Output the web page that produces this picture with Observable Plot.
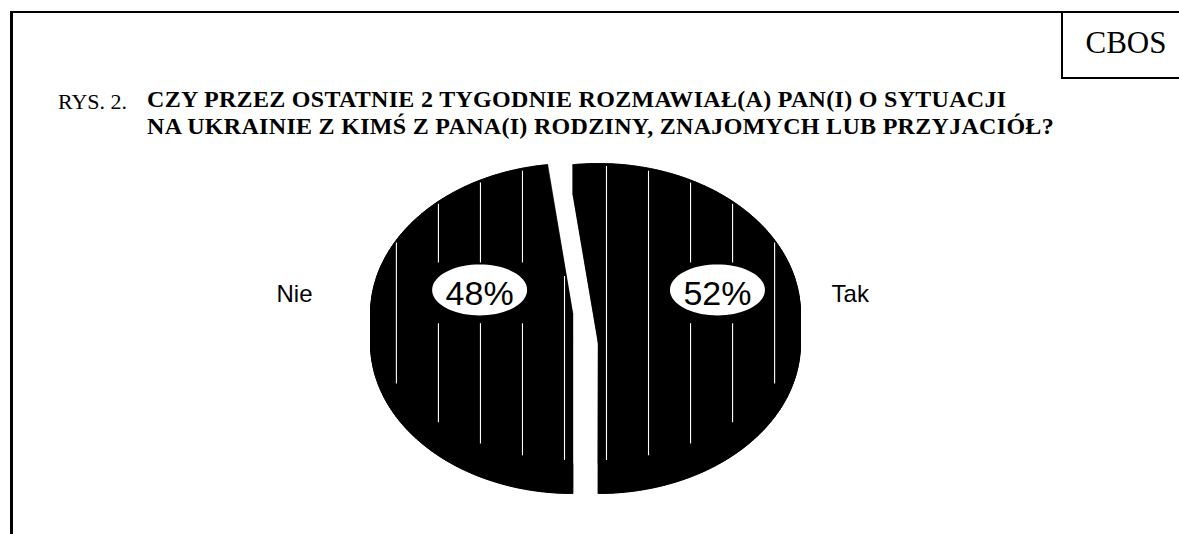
<!DOCTYPE html>
<html>
<head>
<meta charset="utf-8">
<script src="https://cdn.jsdelivr.net/npm/d3@7"></script>
<script src="https://cdn.jsdelivr.net/npm/@observablehq/plot@0.6"></script>
<style>
  html, body { margin: 0; padding: 0; background: #fff; }
  #wrap { position: relative; width: 1179px; height: 534px; overflow: hidden; background: #fff; }
  .ln { position: absolute; background: #000; }
  #cbos { position: absolute; left: 1063px; top: 23px; width: 116px; text-align: center;
          font-family: "Liberation Serif", "Times New Roman", serif; font-size: 31px; line-height: 40px; padding-left: 10px; box-sizing: border-box; }
  .t { position: absolute; font-family: "Liberation Serif", "Times New Roman", serif;
       white-space: nowrap; color: #000; }
  #rys { left: 58px; top: 88px; font-size: 22px; line-height: 27px; }
  #title { left: 147px; top: 86px; font-weight: bold; font-size: 24px; line-height: 27px; letter-spacing: 0.3px; }
  #chart { position: absolute; left: 0; top: 150px; }
</style>
</head>
<body>
<div id="wrap">
  <div class="ln" style="left:10px;top:11px;width:1169px;height:2px"></div>
  <div class="ln" style="left:10px;top:11px;width:2.5px;height:523px"></div>
  <div class="ln" style="left:1061px;top:11px;width:2px;height:68px"></div>
  <div class="ln" style="left:1061px;top:77px;width:118px;height:2px"></div>
  <div id="cbos">CBOS</div>
  <div class="t" id="rys">RYS. 2.</div>
  <div class="t" id="title"></div>
  <div id="chart"></div>
</div>
<script>
// ---- data ----
const titleLines = [
  "CZY PRZEZ OSTATNIE 2 TYGODNIE ROZMAWIAŁ(A) PAN(I) O SYTUACJI",
  "NA UKRAINIE Z KIMŚ Z PANA(I) RODZINY, ZNAJOMYCH LUB PRZYJACIÓŁ?"
];
const categories = ["Tak", "Nie"];
const values = [52, 48];
const percentLabels = ["52%", "48%"];

// ---- title ----
document.getElementById("title").innerHTML = titleLines.join("<br>");

// ---- geometry (in ellipse-radius units) ----
const explode = 0.064;
const depth = 0.2;
const total = d3.sum(values);
const a0 = Math.PI - 2 * Math.PI * values[0] / total; // first slice ends at the front
let acc = a0;
const slices = categories.map((c, i) => {
  const s = acc, e = acc + 2 * Math.PI * values[i] / total;
  acc = e;
  const mid = (s + e) / 2;
  return {c, i, s, e, mid, ox: explode * Math.sin(mid), oy: 0};
});

const polys = [];
let pid = 0;
function addPoly(pts) {
  const id = pid++;
  pts.forEach(p => polys.push({id, x: p[0], y: p[1]}));
}
slices.forEach(sl => {
  const n = Math.ceil((sl.e - sl.s) / (Math.PI / 180));
  const ring = [[sl.ox, sl.oy]];
  for (let k = 0; k <= n; k++) {
    const a = sl.s + (sl.e - sl.s) * k / n;
    ring.push([sl.ox + Math.sin(a), sl.oy + Math.cos(a)]);
  }
  addPoly(ring);
  addPoly(ring.map(p => [p[0], p[1] - depth]));
  for (let k = 0; k < ring.length; k++) {
    const p = ring[k], q = ring[(k + 1) % ring.length];
    addPoly([p, q, [q[0], q[1] - depth], [p[0], p[1] - depth]]);
  }
});

// label positions
const labelPos = {Tak: {x: 0.653, y: 0.157}, Nie: {x: -0.524, y: 0.157}};
const lrx = 0.235, lry = 0.17;
const ellipses = [];
slices.forEach(sl => {
  const L = labelPos[sl.c];
  for (let k = 0; k < 72; k++) {
    const a = 2 * Math.PI * k / 72;
    ellipses.push({c: sl.c, x: L.x + lrx * Math.cos(a), y: L.y + lry * Math.sin(a)});
  }
});

// stripes on the top face
const stripes = [];
slices.forEach(sl => {
  const sgn = Math.sign(sl.ox);
  const L = labelPos[sl.c];
  for (let k = 0; k < 5; k++) {
    const dx = 0.04 + k * 0.208;
    const x = sl.ox + sgn * dx;
    const h = Math.sqrt(Math.max(0, 1 - dx * dx));
    let top = sl.oy + h - 0.02;
    const bot = sl.oy - h + 0.02;
    // clip by the back radial edge (only matters near the vertex)
    const ea = sgn > 0 ? sl.s : sl.e;
    const ex = Math.sin(ea), ey = Math.cos(ea);
    if (Math.sign(ex) === sgn) {
      const t = dx / Math.abs(ex);
      if (t > 0 && t < 1) top = Math.min(top, sl.oy + ey * t - 0.07);
    }
    if (Math.abs(x - L.x) < lrx) {
      const gTop = L.y + lry + 0.01, gBot = L.y - lry - 0.055;
      stripes.push({x, y1: gTop, y2: top});
      stripes.push({x, y1: bot, y2: gBot});
    } else {
      stripes.push({x, y1: bot, y2: top});
    }
  }
});

const textFont = "'Liberation Sans', Arial, sans-serif";
const nie = slices.filter(d => d.c === "Nie");
const tak = slices.filter(d => d.c === "Tak");
const chart = Plot.plot({
  width: 1179,
  height: 384,
  marginLeft: 370,
  marginRight: 379,
  marginTop: 13,
  marginBottom: 41,
  x: {domain: [-1 - explode, 1 + explode], axis: null},
  y: {domain: [-1 - depth, 1], axis: null},
  style: {background: "transparent", overflow: "visible"},
  marks: [
    Plot.line(polys, {x: "x", y: "y", z: "id", fill: "black", stroke: "black", strokeWidth: 0.6, curve: "linear-closed"}),
    Plot.ruleX(stripes, {x: "x", y1: "y1", y2: "y2", stroke: "white", strokeWidth: 1.1}),
    Plot.line(ellipses, {x: "x", y: "y", z: "c", fill: "white", stroke: "none", curve: "linear-closed"}),
    Plot.text(slices, {x: d => labelPos[d.c].x, y: d => labelPos[d.c].y, text: d => percentLabels[d.i],
      fontSize: 34, fontFamily: textFont, fill: "black", dy: 4.6}),
    Plot.text(nie, {x: -1.351, y: 0.125, text: "c", textAnchor: "end", fontSize: 24, fontFamily: textFont, fill: "black"}),
    Plot.text(tak, {x: 1.218, y: 0.125, text: "c", textAnchor: "start", fontSize: 24, fontFamily: textFont, fill: "black"})
  ]
});
document.getElementById("chart").appendChild(chart);
</script>
</body>
</html>
